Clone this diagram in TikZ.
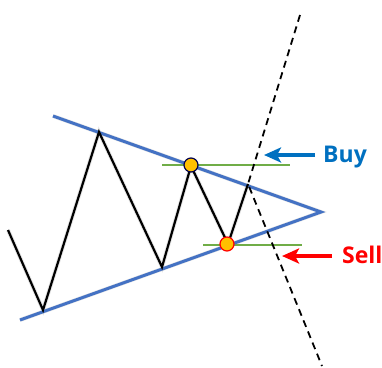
\documentclass[tikz,border=0pt]{standalone}
\usepackage{fontspec}
\setmainfont{Open Sans}
\usetikzlibrary{arrows.meta}
\definecolor{tblue}{RGB}{68,114,196}
\definecolor{tgreen}{RGB}{112,173,71}
\definecolor{abuy}{RGB}{0,112,192}
\definecolor{asell}{RGB}{255,0,0}
\definecolor{dotfill}{RGB}{255,192,0}
\tikzset{
  trend/.style={tblue, line width=3pt},
  price/.style={black, line width=2.2pt, line join=miter},
  level/.style={tgreen, line width=1.8pt},
  breakout/.style={black, line width=1.8pt, dash pattern=on 7pt off 5pt},
  shadowline/.style={black!25, line width=4pt, opacity=0.4},
  signal/.style={line width=3.5pt, -{Stealth[length=17pt, width=15pt, inset=4pt]}},
  dot/.style={circle, fill=dotfill, minimum size=14pt, inner sep=0pt, line width=1.2pt},
  lbl/.style={font=\fontsize{23}{23}\selectfont\bfseries, anchor=base west, inner sep=0pt}
}
\begin{document}
\begin{tikzpicture}[x=1pt, y=-1pt]
\useasboundingbox (0,0) rectangle (382,367);
% coordinates
\coordinate (ut) at (53,116);
\coordinate (ap) at (321,212);
\coordinate (lb) at (20,320);
\coordinate (p0) at (8,230);
\coordinate (p1) at (43,310);
\coordinate (p2) at (99,132);
\coordinate (p3) at (162,267);
\coordinate (p4) at (191,166);
\coordinate (p5) at (228,244);
\coordinate (p6) at (248,184);
\coordinate (dt) at (300,15);
\coordinate (db) at (322,366);
% shadows
\begin{scope}[shift={(3,5)}]
\draw[shadowline] (ut) -- (ap) -- (lb);
\draw[shadowline] (p0) -- (p1) -- (p2) -- (p3) -- (p4) -- (p5) -- (p6);
\end{scope}
% level lines
\coordinate (gt1) at (162,165);
\coordinate (gt2) at (290,165);
\coordinate (gb1) at (203,245);
\coordinate (gb2) at (302,245);
\draw[level] (gt1) -- (gt2);
\draw[level] (gb1) -- (gb2);
% trend lines
\draw[trend] (ut) -- (ap) -- (lb);
% price
\draw[price] (p0) -- (p1) -- (p2) -- (p3) -- (p4) -- (p5) -- (p6);
% dashed breakout
\draw[breakout] (dt) -- (p6) -- (db);
% dots
\node[dot, draw=black!70!blue] (d1) at (191,165) {};
\node[dot, draw=red] (d2) at (227,244) {};
% labels
\node[lbl, text=abuy] (buy) at (323,162) {Buy};
\node[lbl, text=asell] (sell) at (342,263) {Sell};
\coordinate (bs) at (315,155);
\coordinate (bt) at (264,155);
\coordinate (ss) at (332,256);
\coordinate (st) at (282,256);
\draw[signal, abuy] (bs) -- (bt);
\draw[signal, asell] (ss) -- (st);
\end{tikzpicture}
\end{document}
